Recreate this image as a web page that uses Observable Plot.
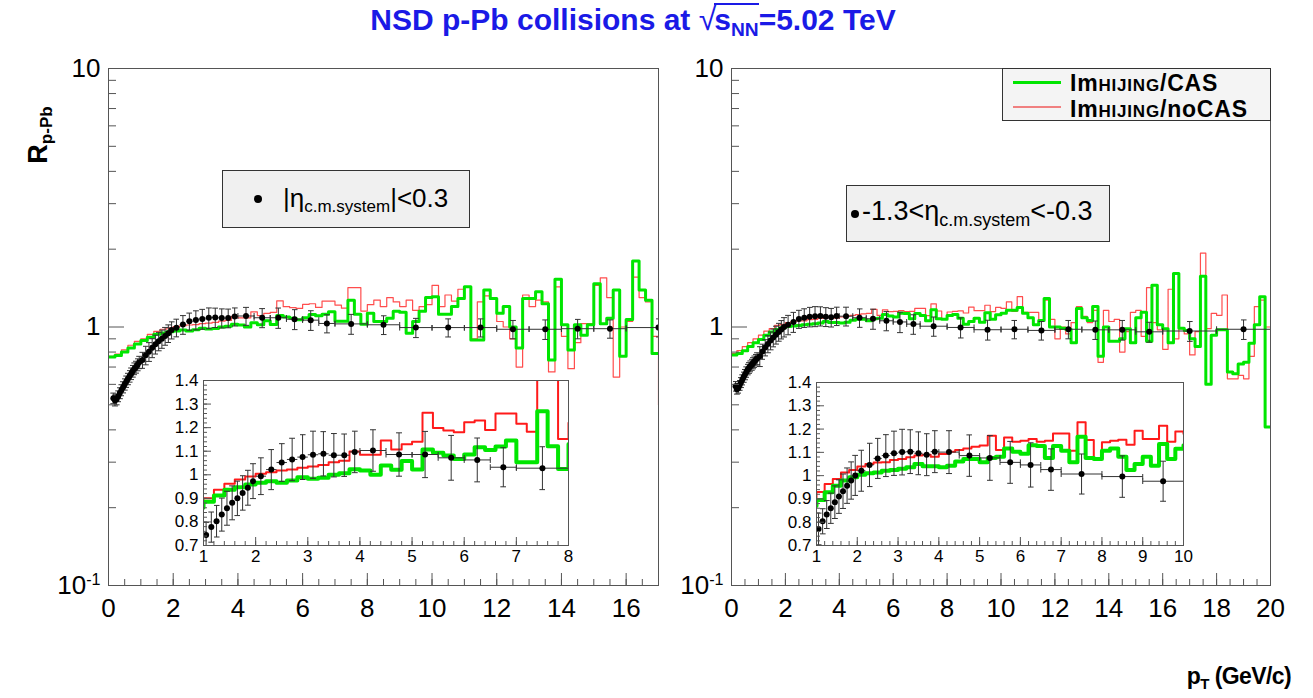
<!DOCTYPE html>
<html><head><meta charset="utf-8">
<script src="https://cdn.jsdelivr.net/npm/d3@7"></script>
<script src="https://cdn.jsdelivr.net/npm/@observablehq/plot@0.6"></script>
<style>
body{margin:0;background:#fff;}
#root{position:relative;width:1313px;height:698px;overflow:hidden;font-family:"Liberation Sans",Arial,Helvetica,sans-serif;background:#fff;}
#root svg{position:absolute;left:0;top:0;}
.abs{position:absolute;white-space:nowrap;}
.box{background:#f0f0f0;border:1px solid #333;box-sizing:border-box;}
.dot{position:absolute;width:8px;height:8px;border-radius:50%;background:#000;}
sub{font-size:0.64em;vertical-align:-0.32em;line-height:0;}
</style></head>
<body><div id="root"></div>
<script>
// ---------------- data ----------------
const BIN = 0.2; // histogram bin width (GeV/c)

// |eta| < 0.3 : data points
const ptL = [0.15,0.2,0.25,0.3,0.35,0.4,0.45,0.5,0.55,0.6,0.65,0.7,0.75,0.8,0.85,0.9,0.95,
  1.05,1.15,1.25,1.35,1.45,1.55,1.65,1.75,1.85,1.95,
  2.1,2.3,2.5,2.7,2.9,3.1,3.3,3.5,3.7,3.9,
  4.25,4.75,5.25,5.75,6.25,6.75,7.5,
  8.5,9.5,10.5,11.5,12.5,13.5,14.5,15.5,17];
const rL = [0.53,0.52,0.525,0.54,0.555,0.57,0.585,0.60,0.615,0.63,0.645,0.66,0.675,0.69,0.70,0.715,0.73,
  0.745,0.778,0.803,0.831,0.858,0.881,0.90,0.923,0.945,0.973,
  0.994,1.022,1.052,1.065,1.075,1.085,1.089,1.083,1.083,1.097,
  1.103,1.086,1.086,1.072,1.063,1.032,1.028,
  1.02,0.995,0.995,0.995,0.98,0.98,0.985,0.985,0.995];
const eL = [0.025,0.025,0.025,0.026,0.027,0.028,0.029,0.03,0.031,0.032,0.033,0.034,0.035,0.036,0.037,0.038,0.04,
  0.053,0.064,0.067,0.07,0.072,0.072,0.073,0.073,0.074,0.074,
  0.078,0.085,0.08,0.09,0.095,0.1,0.094,0.092,0.09,0.088,
  0.088,0.092,0.098,0.095,0.093,0.083,0.091,
  0.085,0.085,0.08,0.08,0.08,0.085,0.085,0.08,0.08];
const xeL = [0.025,0.025,0.025,0.025,0.025,0.025,0.025,0.025,0.025,0.025,0.025,0.025,0.025,0.025,0.025,0.025,0.025,
  0.05,0.05,0.05,0.05,0.05,0.05,0.05,0.05,0.05,0.05,
  0.1,0.1,0.1,0.1,0.1,0.1,0.1,0.1,0.1,0.1,
  0.25,0.25,0.25,0.25,0.25,0.25,0.5,
  0.5,0.5,0.5,0.5,0.5,0.5,0.5,0.5,1];

// -1.3 < eta < -0.3 : data points
const ptR = [0.15,0.2,0.25,0.3,0.35,0.4,0.45,0.5,0.55,0.6,0.65,0.7,0.75,0.8,0.85,0.9,0.95,
  1.05,1.15,1.25,1.35,1.45,1.55,1.65,1.75,1.85,1.95,
  2.1,2.3,2.5,2.7,2.9,3.1,3.3,3.5,3.7,3.9,
  4.25,4.75,5.25,5.75,6.25,6.75,7.5,
  8.5,9.5,10.5,11.5,12.5,13.5,14.5,15.5,17,19];
const rR = [0.59,0.575,0.58,0.595,0.61,0.625,0.64,0.655,0.67,0.685,0.695,0.705,0.715,0.725,0.735,0.745,0.755,
  0.771,0.804,0.833,0.86,0.886,0.91,0.933,0.957,0.979,1.001,
  1.021,1.046,1.074,1.086,1.096,1.101,1.103,1.096,1.09,1.103,
  1.101,1.086,1.076,1.057,1.046,1.026,1.007,
  0.996,0.976,0.98,0.97,0.98,0.975,0.975,0.958,0.965,0.98];
const eR = [0.025,0.025,0.025,0.026,0.027,0.028,0.029,0.03,0.031,0.032,0.033,0.034,0.035,0.036,0.037,0.038,0.04,
  0.068,0.054,0.06,0.065,0.07,0.072,0.074,0.076,0.08,0.086,
  0.088,0.093,0.086,0.09,0.095,0.098,0.094,0.092,0.09,0.09,
  0.092,0.089,0.096,0.09,0.095,0.089,0.086,
  0.089,0.086,0.08,0.08,0.08,0.08,0.085,0.085,0.085,0.085];
const xeR = [0.025,0.025,0.025,0.025,0.025,0.025,0.025,0.025,0.025,0.025,0.025,0.025,0.025,0.025,0.025,0.025,0.025,
  0.05,0.05,0.05,0.05,0.05,0.05,0.05,0.05,0.05,0.05,
  0.1,0.1,0.1,0.1,0.1,0.1,0.1,0.1,0.1,0.1,
  0.25,0.25,0.25,0.25,0.25,0.25,0.5,
  0.5,0.5,0.5,0.5,0.5,0.5,0.5,0.5,1,1];

// ImHIJING/CAS and ImHIJING/noCAS histograms, 0.2 GeV/c bins from 0
const casL = [0.765,0.775,0.80,0.83,0.86, 0.886,0.912,0.937,0.947,0.959,
  0.966,0.973,0.966,0.976,0.99, 0.983,0.987,1.0,1.007,1.024,
  1.018,1.0,1.039,1.021,1.058, 1.022,1.107,1.093,1.082,1.067,
  1.086,1.117,1.105,1.12,1.145, 1.053,1.053,1.27,1.121,1.025,
  1.13,1.05,1.05,1.08,1.15, 1.14,0.945,1.05,1.15,1.30,
  1.31,1.12,1.12,1.2,1.29, 1.43,0.89,0.89,1.39,1.29,
  1.13,1.2,1.0,0.83,1.29, 1.29,1.37,1.23,0.745,1.53,
  1.02,0.815,1.02,0.93,1.02, 1.47,1.03,1.08,1.39,0.77,
  1.07,1.8,1.39,1.27,0.79, 0.79];
const nocasL = [0.77,0.785,0.815,0.85,0.88, 0.90,0.936,0.962,0.98,0.993,
  1.004,1.011,1.018,1.022,1.03, 1.035,1.042,1.053,1.06,1.099,
  1.085,1.085,1.145,1.107,1.13, 1.14,1.263,1.198,1.188,1.18,
  1.223,1.23,1.19,1.26,1.26, 1.216,1.183,1.42,1.42,1.152,
  1.22,1.27,1.2,1.3,1.25, 1.2,1.27,1.16,1.2,1.22,
  1.45,1.2,1.33,1.26,1.4, 1.43,0.9,1.25,1.32,1.28,
  1.05,1.0,0.9,0.7,1.33, 1.2,1.27,1.25,0.67,1.43,
  0.92,0.69,0.87,1.03,1.03, 1.45,1.55,1.3,0.64,1.0,
  1.05,1.56,1.3,1.25,0.92, 0.5];
const casR = [0.78,0.79,0.81,0.84,0.87, 0.895,0.929,0.957,0.979,0.993,
  1.004,1.01,1.014,1.021,1.024, 1.03,1.036,1.05,1.04,1.04,
  1.036,1.043,1.061,1.071,1.071, 1.057,1.076,1.081,1.117,1.103,
  1.094,1.131,1.127,1.076,1.127, 1.107,1.057,1.167,1.076,1.071,
  1.107,1.117,1.081,1.024,1.05, 1.081,1.043,1.136,1.071,1.116,
  1.13,1.16,1.16,1.19,1.13, 1.085,1.02,1.06,1.29,1.0,
  1.0,0.99,0.98,0.87,1.18, 1.085,1.06,1.2,0.77,1.0,
  0.88,0.88,0.9,0.985,0.87, 1.085,1.14,0.88,1.45,1.02,
  0.985,0.87,1.61,0.99,0.97, 0.9,0.84,1.57,0.6,0.93,
  0.975,0.975,0.67,0.66,0.72, 0.73,0.865,1.02,1.31,0.41];
const nocasR = [0.79,0.81,0.84,0.87,0.90, 0.93,0.964,0.986,1.014,1.024,
  1.039,1.05,1.056,1.057,1.067, 1.071,1.079,1.086,1.09,1.081,
  1.093,1.103,1.11,1.117,1.124, 1.129,1.171,1.11,1.164,1.146,
  1.15,1.157,1.146,1.15,1.181, 1.181,1.107,1.229,1.153,1.076,
  1.143,1.15,1.154,1.133,1.193, 1.157,1.157,1.214,1.146,1.19,
  1.18,1.25,1.15,1.31,1.14, 1.14,1.14,1.06,1.27,1.07,
  0.9,1.0,0.94,1.04,1.2, 1.1,1.04,1.16,0.73,1.16,
  1.05,1.07,0.8,0.96,1.14, 1.16,0.92,1.42,1.04,0.975,
  0.82,1.4,0.9,0.985,0.94, 0.78,0.96,1.93,0.985,1.13,
  1.11,1.33,0.63,0.63,0.65, 0.63,0.77,1.2,1.27,1.0];

// ticks
const yMajor = [0.1, 1, 10];
const yMinor = [0.2,0.3,0.4,0.5,0.6,0.7,0.8,0.9,2,3,4,5,6,7,8,9];
const xMajorL = [0,2,4,6,8,10,12,14,16];
const xMajorR = [0,2,4,6,8,10,12,14,16,18,20];
const xMinorL = d3.range(0, 17.01, 0.5);
const xMinorR = d3.range(0, 20.01, 0.5);
const inYMajor = [0.7,0.8,0.9,1.0,1.1,1.2,1.3,1.4];
const inYMinor = d3.range(0.7, 1.4001, 0.02);
const inXMajorL = [1,2,3,4,5,6,7,8];
const inXMajorR = [1,2,3,4,5,6,7,8,9,10];
const inXMinorL = d3.range(1, 8.001, 0.2);
const inXMinorR = d3.range(1, 10.001, 0.2);

// ---------------- drawing ----------------
const W = 1313, H = 698;
const FONT = '"Liberation Sans", Arial, Helvetica, sans-serif';
const AX = "#555";
const root = document.getElementById("root");

function stepData(vals){
  const d = vals.map((v,i)=>({x: +(i*BIN).toFixed(3), y: v}));
  d.push({x: +(vals.length*BIN).toFixed(3), y: vals[vals.length-1]});
  return d;
}
function ptData(pt, r, e, xe){
  return pt.map((x,i)=>({x, y:r[i], lo:r[i]-e[i], hi:r[i]+e[i], xl:x-xe[i], xh:x+xe[i], wide: xe[i] >= 0.2}));
}
function pointMarks(pts, rad){
  return [
    Plot.link(pts.filter(d=>d.wide), {x1:"xl", x2:"xh", y1:"y", y2:"y", stroke:"#333", strokeWidth:1, markerStart:"tick", markerEnd:"tick", clip:true}),
    Plot.link(pts.filter(d=>!d.wide), {x1:"xl", x2:"xh", y1:"y", y2:"y", stroke:"#333", strokeWidth:1, clip:true}),
    Plot.link(pts, {x1:"x", x2:"x", y1:"lo", y2:"hi", stroke:"#333", strokeWidth:1, markerStart:"tick", markerEnd:"tick", clip:true}),
    Plot.dot(pts, {x:"x", y:"y", r:rad, fill:"#000", stroke:null, clip:true})
  ];
}
const fmtMain = d => d === 10 ? "10" : d === 1 ? "1" : "10⁻¹";

function mainPanel(o){
  const pts = ptData(o.pt, o.r, o.e, o.xe);
  const svg = Plot.plot({
    width: W, height: H,
    marginLeft: o.x0, marginRight: W - o.x1, marginTop: 68, marginBottom: H - 585,
    x: {domain: o.xdom},
    y: {type: "log", domain: [0.1, 10]},
    style: {background: "transparent", fontFamily: FONT, overflow: "visible"},
    marks: [
      Plot.line(stepData(o.nocas), {x:"x", y:"y", curve:"step-after", stroke:"#ff4d4d", strokeWidth:1.2, clip:true}),
      Plot.line(stepData(o.cas), {x:"x", y:"y", curve:"step-after", stroke:"#00e600", strokeWidth:3, clip:true}),
      ...pointMarks(pts, 3),
      Plot.axisY({anchor:"left", ticks:yMinor, tickSize:8, dx:8, fill:"none", stroke:AX, label:null}),
      Plot.axisY({anchor:"left", ticks:yMajor, tickSize:16, dx:16, fill:"none", stroke:AX, label:null}),
      Plot.axisY({anchor:"left", ticks:yMajor, tickSize:0, tickPadding:8, tickFormat:fmtMain, fontSize:26, fill:"#000", label:null}),
      Plot.axisX({anchor:"bottom", ticks:o.xMinor, tickSize:6, dy:-6, fill:"none", stroke:AX, label:null}),
      Plot.axisX({anchor:"bottom", ticks:o.xMajor, tickSize:12, dy:-12, fill:"none", stroke:AX, label:null}),
      Plot.axisX({anchor:"bottom", ticks:o.xMajor, tickSize:0, tickPadding:13, tickFormat:d=>String(d), fontSize:26, fill:"#000", label:null}),
      Plot.frame({stroke:AX, strokeWidth:1})
    ]
  });
  d3.select(svg).selectAll("text").each(function(){
    if (this.textContent === "10⁻¹") {
      const t = d3.select(this);
      t.text("10");
      t.append("tspan").attr("dy","-0.55em").attr("font-size","0.62em").text("-1");
    }
  });
  root.appendChild(svg);
}

function insetPanel(o){
  const pts = ptData(o.pt, o.r, o.e, o.xe).filter(d => d.x >= o.xdom[0] && d.x <= o.xdom[1]);
  const svg = Plot.plot({
    width: W, height: H,
    marginLeft: o.x0, marginRight: W - o.x1, marginTop: o.y0, marginBottom: H - o.y1,
    x: {domain: o.xdom},
    y: {domain: [0.7, 1.4]},
    style: {background: "transparent", fontFamily: FONT, overflow: "visible"},
    marks: [
      Plot.frame({fill:"#fff", stroke:null}),
      Plot.line(stepData(o.nocas), {x:"x", y:"y", curve:"step-after", stroke:"#ff1a1a", strokeWidth:2, clip:true}),
      Plot.line(stepData(o.cas), {x:"x", y:"y", curve:"step-after", stroke:"#00e600", strokeWidth:4, clip:true}),
      ...pointMarks(pts, 3),
      Plot.axisY({anchor:"left", ticks:inYMinor, tickSize:4, dx:4, fill:"none", stroke:AX, label:null}),
      Plot.axisY({anchor:"left", ticks:inYMajor, tickSize:8, dx:8, fill:"none", stroke:AX, label:null}),
      Plot.axisY({anchor:"left", ticks:inYMajor, tickSize:0, tickPadding:5, tickFormat:d=>String(+d.toFixed(1)), fontSize:17, fill:"#000", label:null}),
      Plot.axisX({anchor:"bottom", ticks:o.xMinor, tickSize:4, dy:-4, fill:"none", stroke:AX, label:null}),
      Plot.axisX({anchor:"bottom", ticks:o.xMajor, tickSize:8, dy:-8, fill:"none", stroke:AX, label:null}),
      Plot.axisX({anchor:"bottom", ticks:o.xMajor, tickSize:0, tickPadding:4, tickFormat:d=>String(d), fontSize:17, fill:"#000", label:null}),
      Plot.frame({stroke:AX, strokeWidth:1})
    ]
  });
  root.appendChild(svg);
}

mainPanel({x0:108, x1:658, xdom:[0,17], pt:ptL, r:rL, e:eL, xe:xeL, cas:casL, nocas:nocasL, xMajor:xMajorL, xMinor:xMinorL});
mainPanel({x0:731, x1:1270, xdom:[0,20], pt:ptR, r:rR, e:eR, xe:xeR, cas:casR, nocas:nocasR, xMajor:xMajorR, xMinor:xMinorR});
insetPanel({x0:203, x1:568, y0:380, y1:545, xdom:[1,8], pt:ptL, r:rL, e:eL, xe:xeL, cas:casL, nocas:nocasL, xMajor:inXMajorL, xMinor:inXMinorL});
insetPanel({x0:816, x1:1183, y0:382, y1:545, xdom:[1,10], pt:ptR, r:rR, e:eR, xe:xeR, cas:casR, nocas:nocasR, xMajor:inXMajorR, xMinor:inXMinorR});

// ---------------- texts & legends ----------------
root.insertAdjacentHTML("beforeend", `
<div class="abs" style="left:0;width:1266px;top:1px;text-align:center;color:#1a1ae6;font-weight:bold;font-size:30px;">NSD p-Pb collisions at <span style="font-weight:normal;font-size:32px;">√</span><span style="display:inline-block;line-height:1;border-top:2px solid #1a1ae6;margin-left:-2px;">s<sub>NN</sub></span>=5.02 TeV</div>
<div class="abs" style="left:38px;top:135px;transform:translate(-50%,-50%) rotate(-90deg);font-weight:bold;font-size:27px;">R<sub style="font-size:17px;">p-Pb</sub></div>
<div class="abs" style="right:22px;top:663px;font-weight:bold;font-size:23px;letter-spacing:-0.6px;">p<sub style="font-size:15px;">T</sub> (GeV/c)</div>

<div class="abs box" style="left:222px;top:170px;width:248px;height:58px;">
  <span class="dot" style="left:31px;top:24px;"></span>
  <span class="abs" style="left:60px;top:12px;font-size:26px;">|η<sub style="font-size:17px;">c.m.system</sub>|&lt;0.3</span>
</div>
<div class="abs box" style="left:846px;top:185px;width:264px;height:57px;">
  <span class="dot" style="left:4px;top:24px;"></span>
  <span class="abs" style="left:15px;top:10px;font-size:27px;">-1.3&lt;η<sub style="font-size:18px;">c.m.system</sub>&lt;-0.3</span>
</div>

<div class="abs box" style="left:1002px;top:68px;width:269px;height:53px;background:#f4f4f4;">
  <span class="abs" style="left:10px;top:12px;width:48px;height:3px;background:#00e600;"></span>
  <span class="abs" style="left:10px;top:37px;width:48px;height:2px;background:#f08080;"></span>
  <span class="abs" style="left:67px;top:1px;font-size:23px;line-height:26px;letter-spacing:0.8px;font-weight:bold;">Im<span style="font-size:17px;">HIJING</span>/CAS</span>
  <span class="abs" style="left:67px;top:27px;font-size:23px;line-height:26px;letter-spacing:0.8px;font-weight:bold;">Im<span style="font-size:17px;">HIJING</span>/noCAS</span>
</div>
`);
</script>
</body></html>
